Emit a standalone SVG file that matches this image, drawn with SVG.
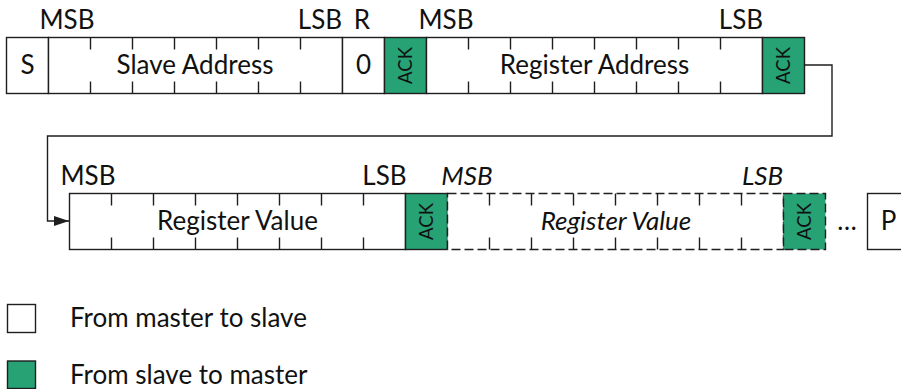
<svg xmlns="http://www.w3.org/2000/svg" width="901" height="389" viewBox="0 0 901 389">
  <defs>
    <style>
      .box { fill: #ffffff; stroke: #1e1e1e; stroke-width: 1.4; }
      .ack { fill: #26a275; stroke: #1e1e1e; stroke-width: 1.4; }
      .dash { stroke-dasharray: 9 4; }
      .tick { stroke: #1e1e1e; stroke-width: 1.4; fill: none; }
      .conn { stroke: #1e1e1e; stroke-width: 1.4; fill: none; }
      text { font-family: Lato, "Liberation Sans", sans-serif; fill: #111111; }
      .t { font-size: 26px; text-anchor: middle; }
      .lbl { font-size: 26px; text-anchor: middle; }
      .it { font-style: italic; }
      .ackt { font-size: 18.5px; text-anchor: middle; }
      .leg { font-size: 26px; text-anchor: start; }
    </style>
    <marker id="arrow" viewBox="0 0 15 10" refX="15" refY="5" markerWidth="15" markerHeight="10" markerUnits="userSpaceOnUse" orient="auto">
      <path d="M0,0 L15,5 L0,10 Z" fill="#1e1e1e"/>
    </marker>
  </defs>

  <g id="connectors">
    <path class="conn" d="M804.5,65 H832 V136 H47.5 V221 H69" marker-end="url(#arrow)"/>
  </g>

  <!-- Row 1 -->
  <g id="start">
    <rect class="box" x="6.5" y="37.5" width="42" height="56"/>
    <text class="t" x="27.5" y="73.5">S</text>
  </g>

  <g id="slave-address">
    <rect class="box" x="48.5" y="37.5" width="294" height="56"/>
    <path class="tick" d="M90.5,37.5v12M132.5,37.5v12M174.5,37.5v12M216.5,37.5v12M258.5,37.5v12M300.5,37.5v12M90.5,93.5v-12M132.5,93.5v-12M174.5,93.5v-12M216.5,93.5v-12M258.5,93.5v-12M300.5,93.5v-12"/>
    <text class="t" x="195" y="73.5">Slave Address</text>
    <text class="lbl" x="67" y="29">MSB</text>
    <text class="lbl" x="320" y="29">LSB</text>
  </g>

  <g id="rw-bit">
    <rect class="box" x="342.5" y="37.5" width="42" height="56"/>
    <text class="t" x="363.5" y="73.5">0</text>
    <text class="lbl" x="362" y="29">R</text>
  </g>

  <g id="ack-1">
    <rect class="ack" x="384.5" y="37.5" width="42" height="56"/>
    <text class="ackt" transform="translate(411.5,65.5) rotate(-90)" x="0" y="0">ACK</text>
  </g>

  <g id="register-address">
    <rect class="box" x="426.5" y="37.5" width="336" height="56"/>
    <path class="tick" d="M468.5,37.5v12M510.5,37.5v12M552.5,37.5v12M594.5,37.5v12M636.5,37.5v12M678.5,37.5v12M720.5,37.5v12M468.5,93.5v-12M510.5,93.5v-12M552.5,93.5v-12M594.5,93.5v-12M636.5,93.5v-12M678.5,93.5v-12M720.5,93.5v-12"/>
    <text class="t" x="594.5" y="73.5">Register Address</text>
    <text class="lbl" x="446" y="29">MSB</text>
    <text class="lbl" x="741" y="29">LSB</text>
  </g>

  <g id="ack-2">
    <rect class="ack" x="762.5" y="37.5" width="42" height="56"/>
    <text class="ackt" transform="translate(789.5,65.5) rotate(-90)" x="0" y="0">ACK</text>
  </g>

  <!-- Row 2 -->
  <g id="register-value">
    <rect class="box" x="69.5" y="193.5" width="336" height="56"/>
    <path class="tick" d="M111.5,193.5v12M153.5,193.5v12M195.5,193.5v12M237.5,193.5v12M279.5,193.5v12M321.5,193.5v12M363.5,193.5v12M111.5,249.5v-12M153.5,249.5v-12M195.5,249.5v-12M237.5,249.5v-12M279.5,249.5v-12M321.5,249.5v-12M363.5,249.5v-12"/>
    <text class="t" x="237.5" y="229.5">Register Value</text>
    <text class="lbl" x="88" y="185">MSB</text>
    <text class="lbl" x="384.5" y="185">LSB</text>
  </g>

  <g id="ack-3">
    <rect class="ack" x="405.5" y="193.5" width="42" height="56"/>
    <text class="ackt" transform="translate(432.5,221.5) rotate(-90)" x="0" y="0">ACK</text>
  </g>

  <g id="register-value-next">
    <rect class="box dash" x="447.5" y="193.5" width="336" height="56"/>
    <path class="tick" d="M489.5,193.5v12M531.5,193.5v12M573.5,193.5v12M615.5,193.5v12M657.5,193.5v12M699.5,193.5v12M741.5,193.5v12M489.5,249.5v-12M531.5,249.5v-12M573.5,249.5v-12M615.5,249.5v-12M657.5,249.5v-12M699.5,249.5v-12M741.5,249.5v-12"/>
    <text class="t it" x="616" y="229.5">Register Value</text>
    <text class="lbl it" x="467" y="185">MSB</text>
    <text class="lbl it" x="762.5" y="185">LSB</text>
  </g>

  <g id="ack-4">
    <rect class="ack dash" x="783.5" y="193.5" width="42" height="56"/>
    <text class="ackt" transform="translate(810.5,221.5) rotate(-90)" x="0" y="0">ACK</text>
  </g>

  <g id="ellipsis">
    <text class="t" x="847" y="229.5">…</text>
  </g>

  <g id="stop">
    <rect class="box" x="867.5" y="193.5" width="42" height="56"/>
    <text class="t" x="888.5" y="229.5">P</text>
  </g>

  <!-- Legend -->
  <g id="legend-master">
    <rect class="box" x="7.5" y="304.5" width="28" height="28"/>
    <text class="leg" x="70" y="327">From master to slave</text>
  </g>
  <g id="legend-slave">
    <rect class="ack" x="7.5" y="361" width="28" height="27.5"/>
    <text class="leg" x="70" y="383.5">From slave to master</text>
  </g>
</svg>
